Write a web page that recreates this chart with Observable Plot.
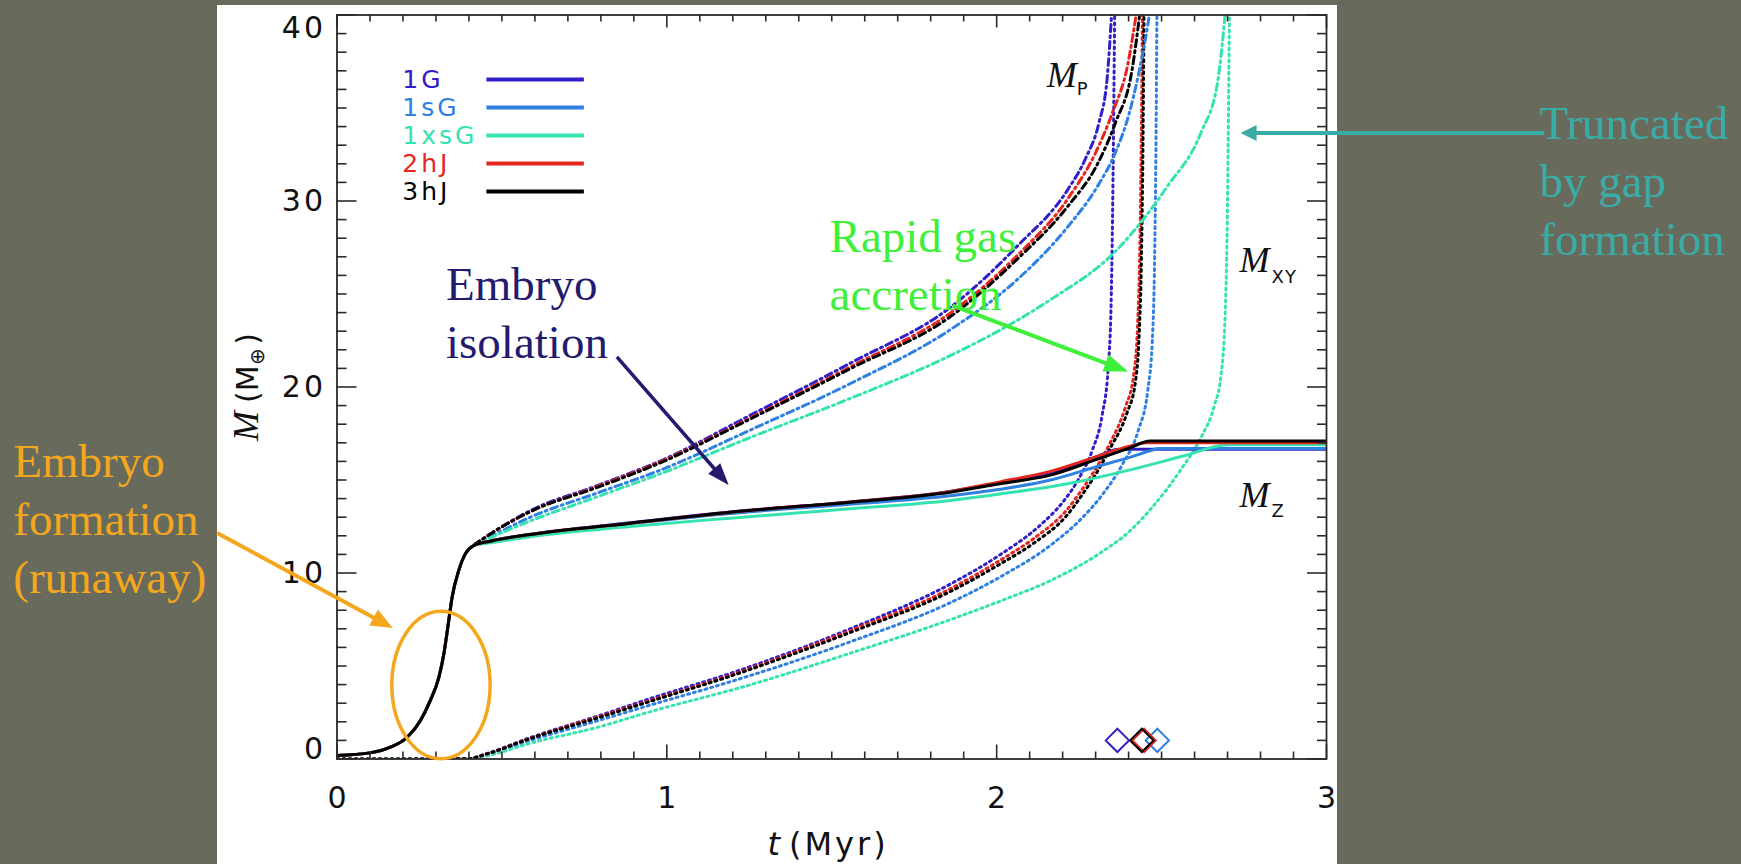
<!DOCTYPE html>
<html>
<head>
<meta charset="utf-8">
<script src="https://cdn.jsdelivr.net/npm/d3@7"></script>
<script src="https://cdn.jsdelivr.net/npm/@observablehq/plot@0.6"></script>
<style>
  html, body { margin: 0; padding: 0; width: 1741px; height: 864px; overflow: hidden; background: #686a5c; }
  #page { position: relative; width: 1741px; height: 864px; }
  #white { position: absolute; left: 217px; top: 5px; width: 1120px; height: 859px; background: #ffffff; }
  #chart { position: absolute; left: 0; top: 0; }
  #chart svg g[aria-label="text"] text { letter-spacing: 3px; }
</style>
</head>
<body>
<div id="page"><div id="white"></div><div id="chart"></div></div>
<script>
// ---------------- data ----------------
const series = ["1G", "1sG", "1xsG", "2hJ", "3hJ"];
const colors = ["#3020c8", "#2f80e0", "#34e3b0", "#e5261e", "#000000"];

// core mass M_Z (solid): early runaway part, identical for all models
const coreEarly = [[0,0.19],[0.10,0.33],[0.162,0.64],[0.213,1.17],[0.253,2.07],[0.283,3.15],[0.309,4.40],[0.324,5.66],[0.336,7.09],[0.349,8.70],[0.369,10.13],[0.389,11.03],[0.415,11.48]];
const mz_1G   = [...coreEarly,[0.465,11.72],[0.586,12.08],[0.889,12.70],[1.192,13.28],[1.556,13.82],[1.859,14.38],[2.01,14.85],[2.16,15.35],[2.31,16.3],[2.37,16.65],[3.0,16.65]];
const mz_1sG  = [...coreEarly,[0.465,11.70],[0.586,12.05],[0.889,12.65],[1.192,13.20],[1.556,13.70],[1.859,14.15],[2.01,14.5],[2.164,15.0],[2.30,15.7],[2.40,16.2],[2.47,16.6],[2.49,16.7],[3.0,16.7]];
const mz_1xsG = [...coreEarly,[0.465,11.62],[0.586,11.95],[0.889,12.50],[1.192,12.95],[1.556,13.45],[1.859,13.90],[2.01,14.25],[2.215,14.8],[2.417,15.6],[2.568,16.3],[2.70,16.9],[3.0,16.9]];
const mz_2hJ  = [...coreEarly,[0.465,11.71],[0.586,12.07],[0.889,12.68],[1.192,13.27],[1.556,13.82],[1.859,14.38],[2.01,14.9],[2.16,15.45],[2.31,16.3],[2.40,16.8],[2.455,17.0],[3.0,17.0]];
const mz_3hJ  = [...coreEarly,[0.465,11.71],[0.586,12.07],[0.889,12.68],[1.192,13.27],[1.556,13.80],[1.859,14.34],[2.01,14.8],[2.16,15.25],[2.31,16.15],[2.40,16.7],[2.465,17.1],[3.0,17.1]];

// envelope mass M_XY (dotted)
const xyEarly = [[0,0],[0.2,0],[0.40,0.02]];
const xy_1G   = [...xyEarly,[0.45,0.27],[0.586,1.15],[0.789,2.3],[0.95,3.25],[1.192,4.6],[1.556,7.0],[1.859,9.4],[2.012,11.0],[2.134,12.6],[2.20,13.8],[2.25,15.1],[2.29,16.6],[2.32,18.5],[2.338,21.0],[2.347,24.5],[2.352,30],[2.355,35],[2.358,40.5]];
const xy_1sG  = [...xyEarly,[0.45,0.22],[0.586,1.0],[0.789,2.05],[0.95,2.9],[1.192,4.15],[1.556,6.3],[1.859,8.4],[2.012,9.8],[2.164,11.5],[2.25,12.8],[2.32,14.2],[2.38,15.8],[2.43,17.7],[2.458,19.8],[2.472,22.5],[2.479,27],[2.483,33],[2.486,40.5]];
const xy_1xsG = [...xyEarly,[0.45,0.15],[0.586,0.85],[0.789,1.7],[0.951,2.55],[1.255,4.0],[1.558,5.7],[1.861,7.5],[2.012,8.5],[2.164,9.6],[2.316,11.1],[2.40,12.2],[2.47,13.5],[2.56,15.6],[2.62,17.3],[2.66,19.0],[2.68,20.6],[2.693,24],[2.70,30],[2.703,35],[2.706,40.5]];
const xy_2hJ  = [...xyEarly,[0.45,0.25],[0.586,1.12],[0.789,2.25],[0.95,3.15],[1.192,4.5],[1.556,6.9],[1.859,9.15],[2.012,10.7],[2.112,11.85],[2.213,13.4],[2.263,14.6],[2.30,15.6],[2.344,17.0],[2.39,18.9],[2.415,20.6],[2.427,23.2],[2.434,27.5],[2.438,32.5],[2.442,40.5]];
const xy_3hJ  = [...xyEarly,[0.45,0.25],[0.586,1.1],[0.789,2.2],[0.95,3.1],[1.192,4.45],[1.556,6.8],[1.859,9.0],[2.012,10.5],[2.112,11.6],[2.213,13.1],[2.263,14.3],[2.30,15.3],[2.344,16.7],[2.395,18.6],[2.42,20.2],[2.432,22.8],[2.439,27],[2.443,32],[2.447,40.5]];

// total mass M_P (dash-dot)
const mp_1G   = [[0.415,11.5],[0.465,12.1],[0.586,13.35],[0.789,14.7],[0.99,16.1],[1.255,18.5],[1.558,21.3],[1.861,24.3],[2.064,27.6],[2.215,30.6],[2.27,32.3],[2.31,34.2],[2.335,36.6],[2.35,40.5]];
const mp_1sG  = [[0.415,11.5],[0.465,11.95],[0.586,13.0],[0.789,14.3],[0.99,15.6],[1.255,17.7],[1.558,20.2],[1.861,23.1],[2.064,25.8],[2.215,28.6],[2.306,30.8],[2.36,32.6],[2.40,34.6],[2.43,36.8],[2.452,38.8],[2.467,40.5]];
const mp_1xsG = [[0.415,11.5],[0.465,11.9],[0.586,12.8],[0.789,14.1],[0.99,15.4],[1.255,17.3],[1.558,19.4],[1.861,21.7],[2.064,23.6],[2.164,24.7],[2.366,27.4],[2.518,30.8],[2.62,33.7],[2.67,36.4],[2.695,40.5]];
const mp_2hJ  = [[0.415,11.5],[0.465,12.1],[0.586,13.3],[0.789,14.65],[0.99,16.05],[1.255,18.35],[1.558,21.1],[1.861,24.0],[2.064,27.1],[2.215,30.1],[2.30,32.6],[2.35,34.7],[2.397,37.3],[2.427,40.5]];
const mp_3hJ  = [[0.415,11.5],[0.465,12.1],[0.586,13.3],[0.789,14.6],[0.99,16.0],[1.255,18.3],[1.558,21.0],[1.861,23.8],[2.064,26.9],[2.215,29.7],[2.306,32.0],[2.36,34.2],[2.41,37.0],[2.437,40.5]];

// diamond markers near the bottom
const diamondSeries = ["1G", "1sG", "2hJ", "3hJ"];
const diamondT      = [2.366, 2.487, 2.447, 2.44];
const diamondM      = [1.0, 1.0, 1.0, 1.0];

// axis ticks
const xMajorTicks = [0, 1, 2, 3];
const xMinorTicks = [0.1,0.2,0.3,0.4,0.5,0.6,0.7,0.8,0.9,1.1,1.2,1.3,1.4,1.5,1.6,1.7,1.8,1.9,2.1,2.2,2.3,2.4,2.5,2.6,2.7,2.8,2.9];
const yMajorTicks = [0, 10, 20, 30, 40];
const yMinorTicks = [1,2,3,4,5,6,7,8,9,11,12,13,14,15,16,17,18,19,21,22,23,24,25,26,27,28,29,31,32,33,34,35,36,37,38,39];

// ---------------- tables ----------------
const mzAll = [mz_1G, mz_1sG, mz_1xsG, mz_2hJ, mz_3hJ];
const xyAll = [xy_1G, xy_1sG, xy_1xsG, xy_2hJ, xy_3hJ];
const mpAll = [mp_1G, mp_1sG, mp_1xsG, mp_2hJ, mp_3hJ];
const toRows = arrs => series.flatMap((s, i) => arrs[i].map(([t, m]) => ({series: s, t, m})));
const rowsZ = toRows(mzAll), rowsXY = toRows(xyAll), rowsP = toRows(mpAll);
const diamonds = diamondSeries.map((s, i) => ({series: s, t: diamondT[i], m: diamondM[i]}));

const PXY = 744 / 40;      // px per Earth mass (tick lengths)
const PXX = 989.5 / 3;     // px per Myr
const tickCol = "#2a2a2a";
const sans = "DejaVu Sans, sans-serif";

const chart = Plot.plot({
  width: 1741, height: 864,
  marginLeft: 336.5, marginRight: 415, marginTop: 14.5, marginBottom: 105.5,
  x: {domain: [0, 3], axis: null},
  y: {domain: [0, 40], axis: null},
  color: {domain: series, range: colors},
  style: {background: "transparent", overflow: "visible"},
  marks: [
    Plot.line(rowsXY, {x: "t", y: "m", z: "series", stroke: "series", strokeWidth: 3, strokeDasharray: "2,4", curve: "monotone-x", clip: true}),
    Plot.line(rowsP, {x: "t", y: "m", z: "series", stroke: "series", strokeWidth: 3, strokeDasharray: "7,4,2,4", curve: "monotone-x", clip: true}),
    Plot.line(rowsZ, {x: "t", y: "m", z: "series", stroke: "series", strokeWidth: 3, curve: "monotone-x", clip: true}),
    Plot.dot(diamonds, {x: "t", y: "m", stroke: "series", symbol: "diamond2", r: 10.5, fill: "none", strokeWidth: 2}),
    // frame and inward ticks
    Plot.frame({stroke: tickCol, strokeWidth: 1.8}),
    Plot.ruleX(xMinorTicks, {x: d => d, y1: 0, y2: 7 / PXY, stroke: tickCol, strokeWidth: 1.6}),
    Plot.ruleX(xMajorTicks, {x: d => d, y1: 0, y2: 14 / PXY, stroke: tickCol, strokeWidth: 1.6}),
    Plot.ruleX(xMinorTicks, {x: d => d, y1: 40, y2: 40 - 7 / PXY, stroke: tickCol, strokeWidth: 1.6}),
    Plot.ruleX(xMajorTicks, {x: d => d, y1: 40, y2: 40 - 13 / PXY, stroke: tickCol, strokeWidth: 1.6}),
    Plot.ruleY(yMinorTicks, {y: d => d, x1: 0, x2: 10 / PXX, stroke: tickCol, strokeWidth: 1.6}),
    Plot.ruleY(yMajorTicks, {y: d => d, x1: 0, x2: 20 / PXX, stroke: tickCol, strokeWidth: 1.6}),
    Plot.ruleY(yMinorTicks, {y: d => d, x1: 3, x2: 3 - 9 / PXX, stroke: tickCol, strokeWidth: 1.6}),
    Plot.ruleY(yMajorTicks, {y: d => d, x1: 3, x2: 3 - 19 / PXX, stroke: tickCol, strokeWidth: 1.6}),
    // tick labels
    Plot.text(xMajorTicks, {x: d => d, y: 0, dx: 1.5, dy: 39, text: d => String(d), fontSize: 30, fontFamily: sans, fill: "#111"}),
    Plot.text(yMajorTicks, {filter: d => d > 0 && d < 40, x: 0, y: d => d, dx: -11, textAnchor: "end", text: d => String(d), fontSize: 30, fontFamily: sans, fill: "#111"}),
    Plot.text(yMajorTicks, {filter: d => d === 0, x: 0, y: d => d, dx: -11, dy: -10, textAnchor: "end", text: d => String(d), fontSize: 30, fontFamily: sans, fill: "#111"}),
    Plot.text(yMajorTicks, {filter: d => d === 40, x: 0, y: d => d, dx: -11, dy: 13, textAnchor: "end", text: d => String(d), fontSize: 30, fontFamily: sans, fill: "#111"}),
    // legend
    Plot.text(series, {x: 0.198, y: (d, i) => 36.05 - i * 1.505, text: d => d, fill: d => d, textAnchor: "start", lineAnchor: "bottom", fontSize: 25, fontFamily: sans}),
    Plot.ruleY(series, {y: (d, i) => 36.53 - i * 1.505, x1: 0.4545, x2: 0.750, stroke: d => d, strokeWidth: 4})
  ]
});
document.getElementById("chart").appendChild(chart);

// ---------------- annotations (positioned in data space via the plot scales) ----------------
const sx = chart.scale("x"), sy = chart.scale("y");
const X = v => sx.apply(v), Y = v => sy.apply(v);
const A = d3.select(chart).append("g").attr("aria-label", "annotations").attr("text-anchor", "start");

const orange = "#f4a71d", navy = "#241b6e", green = "#3ef03a", teal = "#3aaca6";
const serif = "Liberation Serif, Times New Roman, serif";

const notes = [
  {lines: ["Embryo", "formation", "(runaway)"], t: -0.980, m: 8.90, color: orange},
  {lines: ["Embryo", "isolation"], t: 0.332, m: 21.53, color: navy},
  {lines: ["Rapid gas", "accretion"], t: 1.495, m: 24.11, color: green},
  {lines: ["Truncated", "by gap", "formation"], t: 3.647, m: 27.07, color: teal}
];
const arrows = [
  {t1: -0.362, m1: 12.12, t2: 0.171, m2: 7.02, color: orange, w: 4, hl: 22, hw: 18},
  {t1: 0.850, m1: 21.59, t2: 1.189, m2: 14.70, color: navy, w: 3.5, hl: 22, hw: 16},
  {t1: 1.868, m1: 24.35, t2: 2.40, m2: 20.80, color: green, w: 4, hl: 24, hw: 18},
  {t1: 3.662, m1: 33.63, t2: 2.741, m2: 33.63, color: teal, w: 4, hl: 16, hw: 16}
];
const ell = {t: 0.3167, m: 3.95, rt: 0.149, rm: 3.96};

A.append("ellipse")
  .attr("cx", X(ell.t)).attr("cy", Y(ell.m))
  .attr("rx", X(ell.t + ell.rt) - X(ell.t)).attr("ry", Y(ell.m - ell.rm) - Y(ell.m))
  .attr("fill", "none").attr("stroke", orange).attr("stroke-width", 3.5);

for (const a of arrows) {
  const x1 = X(a.t1), y1 = Y(a.m1), x2 = X(a.t2), y2 = Y(a.m2);
  const dx = x2 - x1, dy = y2 - y1, L = Math.hypot(dx, dy), ux = dx / L, uy = dy / L;
  const bx = x2 - ux * a.hl, by = y2 - uy * a.hl;
  A.append("line").attr("x1", x1).attr("y1", y1).attr("x2", bx + ux * 2).attr("y2", by + uy * 2)
    .attr("stroke", a.color).attr("stroke-width", a.w);
  A.append("path")
    .attr("d", `M${x2},${y2}L${bx - uy * a.hw / 2},${by + ux * a.hw / 2}L${bx + uy * a.hw / 2},${by - ux * a.hw / 2}Z`)
    .attr("fill", a.color);
}

for (const n of notes) {
  const x = X(n.t), yb = Y(n.m);
  const tx = A.append("text").attr("fill", n.color).attr("font-family", serif).attr("font-size", 47).attr("text-anchor", "start");
  n.lines.forEach((line, i) => tx.append("tspan").attr("x", x).attr("y", yb - (n.lines.length - 1 - i) * 58).text(line));
}

// curve labels M_P, M_XY, M_Z
const curveLabels = [
  {sub: "P", t: 2.153, m: 36.10, st: 2.244, sm: 35.67},
  {sub: "XY", t: 2.738, m: 26.16, st: 2.835, sm: 25.56},
  {sub: "Z", t: 2.738, m: 13.52, st: 2.835, sm: 12.98}
];
for (const c of curveLabels) {
  A.append("text").attr("x", X(c.t)).attr("y", Y(c.m)).attr("font-family", serif).attr("font-style", "italic")
    .attr("text-anchor", "start").attr("font-size", 36).attr("fill", "#111").text("M");
  A.append("text").attr("x", X(c.st)).attr("y", Y(c.sm)).attr("font-family", sans).attr("text-anchor", "start")
    .attr("font-size", 18).attr("letter-spacing", 1).attr("fill", "#111").text(c.sub);
}

// x axis title: t (Myr)
A.append("text").attr("x", X(1.3446)).attr("y", Y(-5.19)).attr("text-anchor", "end")
  .attr("font-family", sans).attr("font-style", "oblique").attr("font-size", 32).attr("fill", "#111").text("t");
A.append("text").attr("x", X(1.3719)).attr("y", Y(-5.19)).attr("text-anchor", "start").attr("font-family", sans)
  .attr("font-size", 32).attr("letter-spacing", 3).attr("fill", "#111").text("(Myr)");

// y axis title: M (M⊕), rotated
const yTitle = [
  {txt: "M", m: 17.07, tt: -0.2379, font: serif, size: 36, style: "italic"},
  {txt: "(M", m: 19.11, tt: -0.2379, font: sans, size: 30, style: "normal"},
  {txt: "\u2295", m: 21.15, tt: -0.2197, font: sans, size: 20, style: "normal"},
  {txt: ")", m: 22.25, tt: -0.2379, font: sans, size: 30, style: "normal"}
];
for (const p of yTitle) {
  const x = X(p.tt), y = Y(p.m);
  A.append("text").attr("transform", `translate(${x},${y}) rotate(-90)`).attr("text-anchor", "start")
    .attr("font-family", p.font).attr("font-style", p.style).attr("font-size", p.size)
    .attr("fill", "#111").text(p.txt);
}
</script>
</body>
</html>
